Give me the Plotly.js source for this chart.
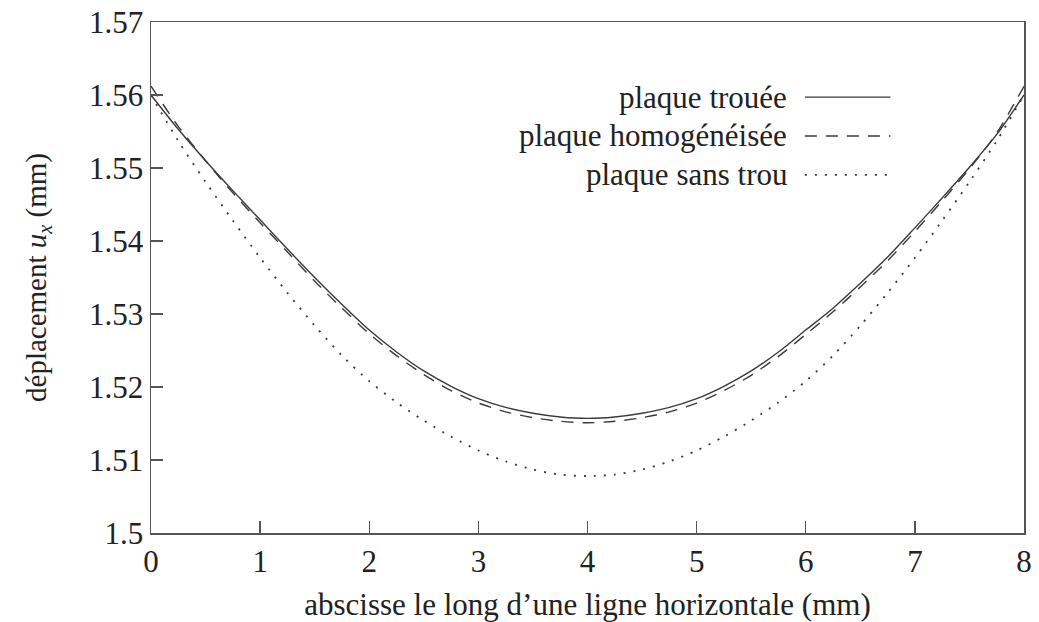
<!DOCTYPE html>
<html>
<head>
<meta charset="utf-8">
<script src="https://cdn.plot.ly/plotly-3.0.1.min.js"></script>
<style>html,body{margin:0;padding:0;background:#fff;}#chart{width:1039px;height:622px;}</style>
</head>
<body>
<div id="chart"></div>
<script>
// abscissa along the horizontal line (mm)
const xPos = [0, 0.25, 0.5, 0.75, 1, 1.25, 1.5, 1.75, 2, 2.25, 2.5, 2.75, 3, 3.25, 3.5, 3.75, 4,
              4.25, 4.5, 4.75, 5, 5.25, 5.5, 5.75, 6, 6.25, 6.5, 6.75, 7, 7.25, 7.5, 7.75, 8];

// plaque trouée (solid)
const uTrouee = [1.5600, 1.5553, 1.5510, 1.5469, 1.5429, 1.5389, 1.5350, 1.5313, 1.5278, 1.5248,
                 1.5222, 1.5201, 1.5184, 1.5172, 1.5164, 1.5159, 1.5157,
                 1.5159, 1.5164, 1.5172, 1.5184, 1.5201, 1.5222, 1.5248, 1.5278, 1.5308,
                 1.5342, 1.5378, 1.5418, 1.5459, 1.5501, 1.5546, 1.5600];

// plaque homogénéisée (dashed)
const uHomog = [1.5612, 1.5557, 1.5510, 1.5466, 1.5425, 1.5385, 1.5345, 1.5308, 1.5273, 1.5243,
                1.5217, 1.5195, 1.5178, 1.5166, 1.5158, 1.5153, 1.5151,
                1.5153, 1.5158, 1.5166, 1.5178, 1.5195, 1.5216, 1.5242, 1.5272, 1.5303,
                1.5337, 1.5373, 1.5413, 1.5455, 1.5499, 1.5548, 1.5612];

// plaque sans trou (dotted)
const uSansTrou = [1.5600, 1.5537, 1.5481, 1.5428, 1.5377, 1.5329, 1.5284, 1.5243, 1.5208, 1.5179,
                   1.5154, 1.5132, 1.5113, 1.5098, 1.5087, 1.5080, 1.5078,
                   1.5080, 1.5087, 1.5098, 1.5113, 1.5132, 1.5154, 1.5179, 1.5208, 1.5243,
                   1.5284, 1.5329, 1.5377, 1.5428, 1.5481, 1.5537, 1.5600];

const seriesNames = ["plaque trouée", "plaque homogénéisée", "plaque sans trou"];

const xTickVals = [0, 1, 2, 3, 4, 5, 6, 7, 8];
const yTickVals = [1.5, 1.51, 1.52, 1.53, 1.54, 1.55, 1.56, 1.57];
const yTickText = ["1.5", "1.51", "1.52", "1.53", "1.54", "1.55", "1.56", "1.57"];

const FONT = "Liberation Serif, Times New Roman, serif";
const TXT = "#222";
const lineColor = "#3a3a3a";
const dashes = ["solid", "12px,9px", "2px,8px"];
const widths = [1.4, 1.4, 1.8];
const seriesY = [uTrouee, uHomog, uSansTrou];

const traces = seriesY.map((ys, i) => ({
  x: xPos, y: ys, type: "scatter", mode: "lines", name: seriesNames[i],
  line: {color: lineColor, width: widths[i], dash: dashes[i], shape: "spline", smoothing: 0.8},
  showlegend: false, hoverinfo: "skip"
}));

// legend drawn as text on the left of the line samples (gnuplot style)
const legY = [0.853, 0.777, 0.701];
const annotations = seriesNames.map((n, i) => ({
  xref: "paper", yref: "paper", x: 0.731, y: legY[i], xanchor: "right", yanchor: "middle",
  text: n, showarrow: false, font: {family: FONT, size: 31, color: TXT}
}));
const shapes = seriesNames.map((n, i) => ({
  type: "line", xref: "paper", yref: "paper", x0: 0.749, x1: 0.847, y0: legY[i], y1: legY[i],
  line: {color: lineColor, width: widths[i], dash: dashes[i]}
}));

const layout = {
  width: 1039, height: 622,
  margin: {l: 151, r: 15, t: 22, b: 89},
  paper_bgcolor: "#fff", plot_bgcolor: "#fff",
  font: {family: FONT, size: 31, color: TXT},
  showlegend: false,
  xaxis: {
    range: [0, 8], tickvals: xTickVals, ticks: "inside", ticklen: 12, tickwidth: 1.3, tickcolor: "#555",
    showline: true, linecolor: "#555", linewidth: 1.5, mirror: true, showgrid: false, zeroline: false,
    tickfont: {family: FONT, size: 31, color: TXT},
    title: {text: "abscisse le long d’une ligne horizontale (mm)", font: {family: FONT, size: 31, color: TXT}, standoff: 20},
    automargin: false
  },
  yaxis: {
    range: [1.5, 1.57], tickvals: yTickVals, ticktext: yTickText, ticks: "inside", ticklen: 12, tickwidth: 1.3, tickcolor: "#555",
    showline: true, linecolor: "#555", linewidth: 1.5, mirror: true, showgrid: false, zeroline: false,
    tickfont: {family: FONT, size: 31, color: TXT},
    title: {text: "déplacement <i>u<sub>x</sub></i> (mm)", font: {family: FONT, size: 29, color: TXT}, standoff: 34},
    automargin: false
  },
  annotations: annotations,
  shapes: shapes
};

Plotly.newPlot("chart", traces, layout, {staticPlot: true, displayModeBar: false});
</script>
</body>
</html>
